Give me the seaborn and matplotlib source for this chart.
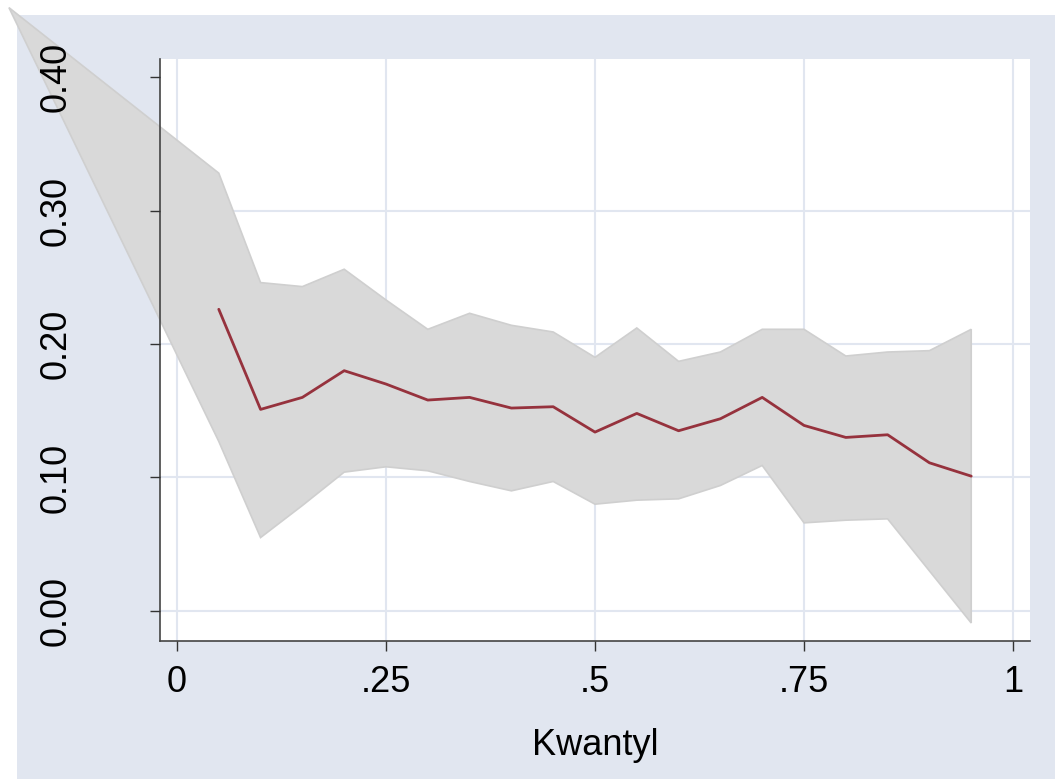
import numpy as np
import pandas as pd
import matplotlib
matplotlib.use("Agg")
import matplotlib.pyplot as plt
from matplotlib.patches import Rectangle
import seaborn as sns

# --- data ---
quantiles = [0.05, 0.10, 0.15, 0.20, 0.25, 0.30, 0.35, 0.40, 0.45, 0.50,
             0.55, 0.60, 0.65, 0.70, 0.75, 0.80, 0.85, 0.90, 0.95]
coef = [0.226, 0.151, 0.160, 0.180, 0.170, 0.158, 0.160, 0.152, 0.153, 0.134,
        0.148, 0.135, 0.144, 0.160, 0.139, 0.130, 0.132, 0.111, 0.101]
ci_upper = [0.328, 0.246, 0.243, 0.256, 0.233, 0.211, 0.223, 0.214, 0.209, 0.190,
            0.212, 0.187, 0.194, 0.211, 0.211, 0.191, 0.194, 0.195, 0.211]
ci_lower = [0.127, 0.055, 0.079, 0.104, 0.108, 0.105, 0.097, 0.090, 0.097, 0.080,
            0.083, 0.084, 0.094, 0.109, 0.066, 0.068, 0.069, 0.030, -0.009]
# stray vertex of the CI area (stata artifact, lies outside the plot region)
stray_q = -0.201
stray_v = 0.452

x_ticks = [0, 0.25, 0.5, 0.75, 1]
x_ticklabels = ["0", ".25", ".5", ".75", "1"]
y_ticks = [0.0, 0.1, 0.2, 0.3, 0.4]
y_ticklabels = ["0.00", "0.10", "0.20", "0.30", "0.40"]

BG = "#E1E6F0"
GRID = "#E1E6F0"
FILL = "#D9D9D9"
EDGE = "#CFCFCF"
LINE = "#96323D"

sns.set_theme(style="white")
plt.rcParams["font.family"] = ["Liberation Sans", "DejaVu Sans"]

df = pd.DataFrame({"Kwantyl": quantiles, "coef": coef})

fig = plt.figure(figsize=(10.55, 7.79), dpi=100, facecolor="white")
fig.patches.append(Rectangle((17 / 1055, 0), 1, 1 - 15 / 779, transform=fig.transFigure,
                             facecolor=BG, edgecolor="none", zorder=-10))
ax = fig.add_axes([160 / 1055, 1 - 641 / 779, 870 / 1055, 582 / 779])
ax.set_facecolor("white")
ax.set_axisbelow(False)

ax.set_xlim(-0.0203, 1.0203)
ax.set_ylim(-0.0225, 0.4135)

# grid
for xt in x_ticks:
    ax.axvline(xt, color=GRID, lw=1.5, zorder=0)
for yt in y_ticks[:-1]:
    ax.axhline(yt, color=GRID, lw=1.5, zorder=0)

# CI area polygon
poly_x = [stray_q] + quantiles + quantiles[::-1]
poly_y = [stray_v] + ci_upper + ci_lower[::-1]
ax.fill(poly_x, poly_y, facecolor=FILL, edgecolor=EDGE, lw=1.2, clip_on=False, zorder=1)

sns.lineplot(data=df, x="Kwantyl", y="coef", ax=ax, color=LINE, lw=2.0, zorder=3)

ax.set_xticks(x_ticks)
ax.set_xticklabels(x_ticklabels)
ax.set_yticks(y_ticks)
ax.set_yticklabels(y_ticklabels, rotation=90, va="center")
ax.tick_params(axis="both", direction="out", length=7.5, width=1, color="#333333",
               labelsize=26, labelcolor="black", bottom=True, left=True)
ax.tick_params(axis="x", pad=10)
ax.tick_params(axis="y", pad=55)
ax.set_ylabel("")
ax.set_xlabel("Kwantyl", fontsize=26, labelpad=20, color="black")

for side in ["top", "right"]:
    ax.spines[side].set_visible(False)
for side in ["left", "bottom"]:
    ax.spines[side].set_color("#444444")
    ax.spines[side].set_linewidth(1.2)

fig.savefig("out.png", dpi=100, facecolor="white")
